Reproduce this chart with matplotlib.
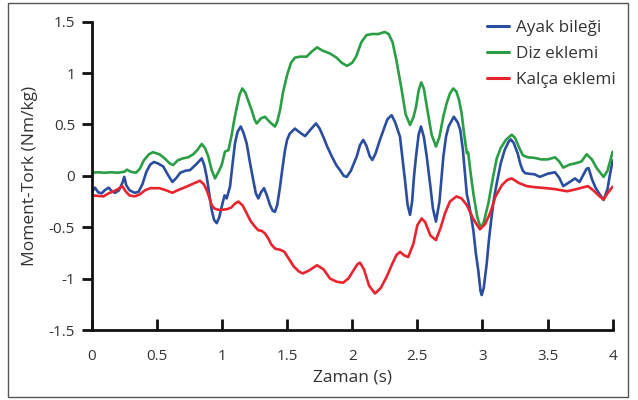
import matplotlib
matplotlib.use("Agg")
import matplotlib.pyplot as plt
from matplotlib.patches import Rectangle

plt.rcParams['font.family'] = ['Open Sans', 'DejaVu Sans']

# ---- data ----
green_x = [0.00, 0.05, 0.10, 0.15, 0.20, 0.25, 0.27, 0.30, 0.34, 0.37, 0.40, 0.44, 0.47, 0.52, 0.56, 0.60,
           0.625, 0.66, 0.70, 0.74, 0.78, 0.81, 0.845, 0.87, 0.895, 0.92, 0.947, 0.97, 0.998, 1.023, 1.05, 1.075,
           1.095, 1.113, 1.135, 1.156, 1.18, 1.205, 1.228, 1.25, 1.267, 1.30, 1.33, 1.37, 1.407, 1.425, 1.446, 1.47,
           1.50, 1.53, 1.56, 1.60, 1.65, 1.69, 1.73, 1.77, 1.83, 1.88, 1.92, 1.96, 2.00, 2.03, 2.07, 2.11,
           2.15, 2.20, 2.25, 2.28, 2.31, 2.34, 2.38, 2.41, 2.444, 2.47, 2.49, 2.51, 2.53, 2.55, 2.58, 2.61,
           2.643, 2.67, 2.70, 2.725, 2.75, 2.776, 2.80, 2.82, 2.84, 2.86, 2.88, 2.89, 2.91, 2.93, 2.96, 2.987,
           3.01, 3.045, 3.08, 3.11, 3.14, 3.18, 3.225, 3.25, 3.28, 3.31, 3.35, 3.40, 3.45, 3.50, 3.557, 3.59,
           3.62, 3.67, 3.71, 3.76, 3.80, 3.84, 3.88, 3.93, 3.96, 4.00]
green_y = [0.03, 0.035, 0.03, 0.035, 0.03, 0.04, 0.06, 0.04, 0.03, 0.07, 0.15, 0.21, 0.23, 0.21, 0.17, 0.12,
           0.105, 0.15, 0.17, 0.18, 0.21, 0.25, 0.31, 0.27, 0.19, 0.06, -0.025, 0.03, 0.105, 0.235, 0.25, 0.40,
           0.55, 0.66, 0.79, 0.85, 0.81, 0.72, 0.64, 0.55, 0.51, 0.56, 0.575, 0.52, 0.48, 0.53, 0.64, 0.82,
           0.98, 1.10, 1.15, 1.16, 1.16, 1.21, 1.25, 1.22, 1.19, 1.15, 1.10, 1.07, 1.10, 1.16, 1.30, 1.37,
           1.38, 1.38, 1.40, 1.38, 1.30, 1.12, 0.835, 0.60, 0.495, 0.57, 0.67, 0.83, 0.91, 0.85, 0.62, 0.40,
           0.285, 0.38, 0.58, 0.705, 0.80, 0.85, 0.82, 0.74, 0.61, 0.40, 0.22, 0.23, 0.02, -0.17, -0.40, -0.51,
           -0.45, -0.27, -0.02, 0.17, 0.27, 0.35, 0.40, 0.37, 0.28, 0.20, 0.18, 0.175, 0.16, 0.16, 0.18, 0.14,
           0.08, 0.11, 0.12, 0.14, 0.21, 0.16, 0.07, -0.01, 0.05, 0.235]

blue_x = [0.00, 0.025, 0.05, 0.077, 0.10, 0.13, 0.155, 0.18, 0.21, 0.235, 0.25, 0.265, 0.29, 0.33, 0.36, 0.39,
          0.42, 0.45, 0.478, 0.51, 0.55, 0.585, 0.62, 0.65, 0.68, 0.72, 0.755, 0.80, 0.845, 0.865, 0.883, 0.90,
          0.921, 0.94, 0.96, 0.98, 0.998, 1.02, 1.036, 1.062, 1.08, 1.10, 1.12, 1.144, 1.165, 1.19, 1.215, 1.24,
          1.26, 1.279, 1.30, 1.323, 1.345, 1.369, 1.39, 1.407, 1.425, 1.446, 1.465, 1.484, 1.50, 1.52, 1.56, 1.60,
          1.638, 1.68, 1.722, 1.75, 1.778, 1.81, 1.843, 1.88, 1.906, 1.935, 1.958, 1.99, 2.035, 2.06, 2.085, 2.11,
          2.135, 2.155, 2.18, 2.21, 2.24, 2.27, 2.303, 2.33, 2.367, 2.385, 2.405, 2.425, 2.444, 2.46, 2.475, 2.49,
          2.51, 2.528, 2.55, 2.572, 2.60, 2.62, 2.643, 2.67, 2.70, 2.72, 2.74, 2.78, 2.81, 2.83, 2.85, 2.866,
          2.88, 2.89, 2.91, 2.93, 2.95, 2.968, 2.985, 2.994, 3.01, 3.033, 3.05, 3.07, 3.09, 3.11, 3.14, 3.17,
          3.20, 3.217, 3.24, 3.27, 3.29, 3.31, 3.33, 3.36, 3.40, 3.44, 3.50, 3.557, 3.59, 3.62, 3.67, 3.71,
          3.745, 3.77, 3.80, 3.815, 3.84, 3.87, 3.90, 3.93, 3.96, 3.98, 4.00]
blue_y = [-0.16, -0.115, -0.16, -0.17, -0.14, -0.115, -0.15, -0.165, -0.14, -0.07, -0.01, -0.09, -0.14, -0.165, -0.155, -0.08,
          0.04, 0.11, 0.135, 0.12, 0.09, 0.01, -0.06, -0.02, 0.03, 0.05, 0.056, 0.11, 0.17, 0.10, -0.01, -0.15,
          -0.33, -0.43, -0.46, -0.40, -0.30, -0.19, -0.22, -0.105, 0.10, 0.315, 0.43, 0.48, 0.42, 0.315, 0.13, -0.04,
          -0.17, -0.22, -0.16, -0.12, -0.19, -0.285, -0.34, -0.35, -0.28, -0.105, 0.08, 0.25, 0.35, 0.41, 0.46, 0.42,
          0.387, 0.45, 0.51, 0.46, 0.38, 0.28, 0.19, 0.10, 0.056, 0.00, -0.01, 0.05, 0.19, 0.30, 0.35, 0.29,
          0.19, 0.155, 0.22, 0.34, 0.445, 0.55, 0.59, 0.52, 0.38, 0.18, -0.04, -0.28, -0.38, -0.25, 0.00, 0.19,
          0.40, 0.48, 0.38, 0.19, -0.10, -0.32, -0.445, -0.25, 0.19, 0.38, 0.48, 0.575, 0.52, 0.445, 0.25, 0.025,
          -0.18, -0.235, -0.37, -0.53, -0.76, -0.92, -1.12, -1.16, -1.09, -0.85, -0.62, -0.40, -0.21, -0.07, 0.12, 0.25,
          0.33, 0.355, 0.32, 0.22, 0.12, 0.05, 0.025, 0.02, 0.015, -0.01, 0.02, 0.035, -0.02, -0.10, -0.06, -0.025,
          -0.06, 0.0, 0.07, 0.075, -0.03, -0.12, -0.18, -0.235, -0.13, 0.02, 0.15]

red_x = [0.00, 0.05, 0.09, 0.13, 0.17, 0.20, 0.235, 0.26, 0.29, 0.33, 0.37, 0.41, 0.45, 0.52, 0.57, 0.62,
         0.66, 0.70, 0.755, 0.79, 0.83, 0.86, 0.883, 0.90, 0.921, 0.945, 0.972, 1.00, 1.036, 1.07, 1.10, 1.126,
         1.16, 1.19, 1.22, 1.254, 1.28, 1.305, 1.33, 1.356, 1.38, 1.41, 1.45, 1.48, 1.51, 1.55, 1.59, 1.62,
         1.67, 1.73, 1.78, 1.83, 1.88, 1.93, 1.97, 2.01, 2.04, 2.06, 2.09, 2.13, 2.175, 2.22, 2.265, 2.31,
         2.34, 2.367, 2.40, 2.43, 2.47, 2.50, 2.533, 2.56, 2.60, 2.643, 2.68, 2.712, 2.75, 2.80, 2.84, 2.88,
         2.93, 2.98, 3.02, 3.06, 3.10, 3.15, 3.19, 3.225, 3.28, 3.34, 3.40, 3.49, 3.56, 3.65, 3.72, 3.78,
         3.81, 3.85, 3.90, 3.93, 3.96, 4.00]
red_y = [-0.19, -0.195, -0.20, -0.17, -0.15, -0.13, -0.10, -0.15, -0.19, -0.20, -0.18, -0.14, -0.12, -0.12, -0.14, -0.165,
         -0.14, -0.12, -0.09, -0.07, -0.048, -0.08, -0.14, -0.20, -0.285, -0.32, -0.33, -0.33, -0.325, -0.31, -0.27, -0.25,
         -0.29, -0.365, -0.44, -0.495, -0.53, -0.535, -0.56, -0.61, -0.67, -0.71, -0.72, -0.74, -0.80, -0.88, -0.93, -0.95,
         -0.92, -0.87, -0.91, -1.00, -1.03, -1.04, -1.00, -0.92, -0.86, -0.845, -0.91, -1.07, -1.145, -1.09, -0.98, -0.85,
         -0.77, -0.74, -0.775, -0.79, -0.66, -0.48, -0.415, -0.45, -0.58, -0.625, -0.50, -0.365, -0.25, -0.20, -0.22, -0.285,
         -0.42, -0.52, -0.47, -0.36, -0.20, -0.09, -0.04, -0.025, -0.07, -0.10, -0.11, -0.12, -0.13, -0.15, -0.13, -0.11,
         -0.10, -0.14, -0.20, -0.23, -0.17, -0.105]

series_labels = ["Ayak bileği", "Diz eklemi", "Kalça eklemi"]
x_ticks = [0, 0.5, 1, 1.5, 2, 2.5, 3, 3.5, 4]
x_ticklabels = ["0", "0.5", "1", "1.5", "2", "2.5", "3", "3.5", "4"]
y_ticks = [-1.5, -1, -0.5, 0, 0.5, 1, 1.5]
y_ticklabels = ["-1.5", "-1", "-0.5", "0", "0.5", "1", "1.5"]
x_label = "Zaman (s)"
y_label = "Moment-Tork (Nm/kg)"

# ---- figure ----
W, H = 638, 400
fig = plt.figure(figsize=(W / 100, H / 100), dpi=100)
fig.patch.set_facecolor("white")

# outer frame
fig.add_artist(Rectangle((8 / W, 3 / H), 620 / W, 394 / H, transform=fig.transFigure,
                         fill=False, edgecolor="#555555", linewidth=1.0))

ax = fig.add_axes([91.7 / W, 1 - 330 / H, (612.7 - 91.7) / W, (330 - 21.7) / H])
ax.set_facecolor("none")

lw = 1.9
kw = dict(lw=lw, solid_joinstyle="round", solid_capstyle="round")
ax.plot(blue_x, blue_y, color="#2a4d9f", label=series_labels[0], **kw)
ax.plot(green_x, green_y, color="#2a9e45", label=series_labels[1], **kw)
ax.plot(red_x, red_y, color="#e8242f", label=series_labels[2], **kw)

ax.set_xlim(0, 4)
ax.set_ylim(-1.5, 1.5)
for s in ["top", "right"]:
    ax.spines[s].set_visible(False)
for s in ["left", "bottom"]:
    ax.spines[s].set_linewidth(2.0)
    ax.spines[s].set_color("#111111")

txt_color = "#333333"
tfs = 11
lfs = 12.5
ax.set_xticks(x_ticks)
ax.set_xticklabels(x_ticklabels)
ax.set_yticks(y_ticks)
ax.set_yticklabels(y_ticklabels)
ax.tick_params(axis="x", direction="in", length=8, width=2.0, color="#111111",
               pad=14, labelsize=tfs, labelcolor=txt_color)
ax.tick_params(axis="y", direction="out", length=7, width=2.0, color="#111111",
               pad=5, labelsize=tfs, labelcolor=txt_color)

ax.set_xlabel(x_label, fontsize=lfs, color=txt_color, labelpad=4)
ax.set_ylabel(y_label, fontsize=lfs, color=txt_color, labelpad=8)

leg = fig.legend(*ax.get_legend_handles_labels(), loc="upper left",
                 bbox_to_anchor=(487 / W, 1 - 20 / H), bbox_transform=fig.transFigure,
                 frameon=False, fontsize=12.3, handlelength=1.3, handletextpad=0.4,
                 labelspacing=0.58, borderpad=0.0, borderaxespad=0.0)
for t in leg.get_texts():
    t.set_color(txt_color)
for h in leg.get_lines():
    h.set_linewidth(2.2)

fig.savefig("out.png", dpi=100)
